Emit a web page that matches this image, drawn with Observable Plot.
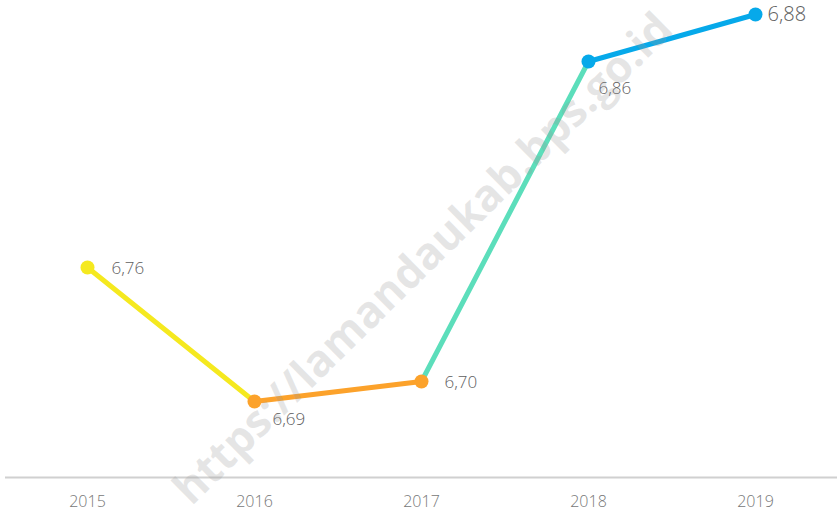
<!DOCTYPE html>
<html>
<head>
<meta charset="utf-8">
<script src="https://cdn.jsdelivr.net/npm/d3@7"></script>
<script src="https://cdn.jsdelivr.net/npm/@observablehq/plot@0.6"></script>
<style>
  html, body { margin: 0; padding: 0; background: #fff; }
  svg { display: block; }
  svg g[aria-label="x-axis tick label"] { font-size: 16px !important; font-weight: 300; }
  svg g[aria-label="x-axis tick label"] text { font-size: 16px !important; }
</style>
</head>
<body>
<div id="chart"></div>
<script>
const years = ["2015", "2016", "2017", "2018", "2019"];
const values = [6.757, 6.69, 6.70, 6.86, 6.8835];
const pointColors = ["#F5E91F", "#FCA22B", "#FCA22B", "#06A9EA", "#06A9EA"];
const segmentColors = ["#F5E91F", "#FCA22B", "#5CDEBB", "#06A9EA"];
const labelDx = [24, 18, 23, 10, 12];
const labelDy = [1, 18, 1, 27, 0];
const labelSize = [17, 17, 17, 17, 20];
const watermark = "https://lamandaukab.bps.go.id";

const fmt = v => v.toFixed(2).replace(".", ",");
const pts = years.map((y, i) => ({year: y, value: values[i], color: pointColors[i], label: fmt(values[i]), dx: labelDx[i], dy: labelDy[i], size: labelSize[i]}));
const segs = segmentColors.map((c, i) => ({x1: years[i], y1: values[i], x2: years[i + 1], y2: values[i + 1], color: c}));

const textMarks = pts.map(p => Plot.text([p], {
  x: "year", y: "value", text: "label", dx: p.dx, dy: p.dy, textAnchor: "start",
  fontSize: p.size, fontWeight: 300, fill: "#606060", fontFamily: "Open Sans, sans-serif"
}));

const chart = Plot.plot({
  width: 837,
  height: 514,
  marginLeft: 5,
  marginRight: 0,
  marginTop: 0,
  marginBottom: 37,
  style: {fontFamily: "Open Sans, sans-serif", background: "#fff"},
  x: {type: "point", domain: years, range: [87, 755], padding: 0},
  y: {domain: [6.652, 6.8905], axis: null},
  marks: [
    Plot.ruleY([6.652], {stroke: "#d0d0d0", strokeWidth: 2}),
    Plot.axisX({tickSize: 0, tickPadding: 18, fontSize: 16, fontWeight: 300, color: "#777", fill: "#777"}),
    Plot.link(segs, {x1: "x1", y1: "y1", x2: "x2", y2: "y2", stroke: d => d.color, strokeWidth: 5, strokeLinecap: "round"}),
    Plot.dot(pts, {x: "year", y: "value", r: 7, fill: d => d.color, stroke: "none"}),
    ...textMarks,
    Plot.text([watermark], {frameAnchor: "middle", dx: 2, dy: 20, rotate: -44.5, fontSize: 44, fontWeight: "bold", fill: "#999", fillOpacity: 0.25, fontFamily: "Open Sans, sans-serif"})
  ]
});
document.getElementById("chart").appendChild(chart);
</script>
</body>
</html>
